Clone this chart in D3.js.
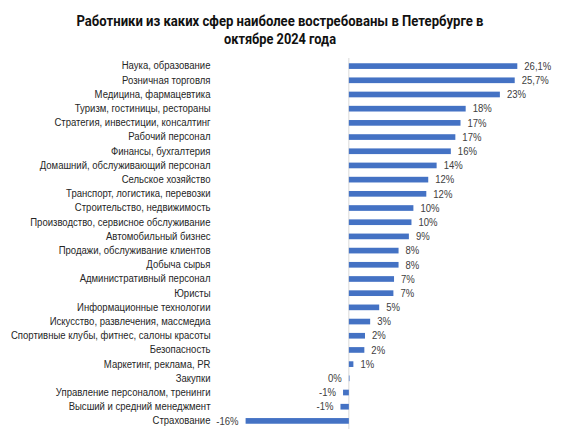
<!DOCTYPE html>
<html><head><meta charset="utf-8">
<script src="https://cdn.jsdelivr.net/npm/d3@7"></script>
<style>
body{margin:0;background:#fff;}
svg{display:block;}
</style></head>
<body><svg id="c" width="575" height="440"></svg>
<script>
const categories = [
  "Наука, образование","Розничная торговля","Медицина, фармацевтика","Туризм, гостиницы, рестораны",
  "Стратегия, инвестиции, консалтинг","Рабочий персонал","Финансы, бухгалтерия","Домашний, обслуживающий персонал",
  "Сельское хозяйство","Транспорт, логистика, перевозки","Строительство, недвижимость","Производство, сервисное обслуживание",
  "Автомобильный бизнес","Продажи, обслуживание клиентов","Добыча сырья","Административный персонал","Юристы",
  "Информационные технологии","Искусство, развлечения, массмедиа","Спортивные клубы, фитнес, салоны красоты",
  "Безопасность","Маркетинг, реклама, PR","Закупки","Управление персоналом, тренинги","Высший и средний менеджмент","Страхование"
];
const values = [26.1,25.7,23.4,18.1,17.3,16.5,15.8,13.6,12.3,12.0,10.0,9.7,9.3,7.7,7.7,7.0,6.9,4.7,3.3,2.5,2.4,0.7,0.1,-0.9,-1.3,-16.0];
const valueLabels = ["26,1%","25,7%","23%","18%","17%","17%","16%","14%","12%","12%","10%","10%","9%","8%","8%","7%","7%","5%","3%","2%","2%","1%","0%","-1%","-1%","-16%"];
const titleLines = ["Работники из каких сфер наиболее востребованы в Петербурге в","октябре 2024 года"];

const svg = d3.select("#c");
const x = d3.scaleLinear().domain([-16, 26.1]).range([245.6, 517.3]);
const y = d3.scaleBand().domain(categories).range([59, 428]).paddingInner(0.6).paddingOuter(0.3);
const FONT = "'Liberation Sans',Arial,sans-serif";
const FS = 10.6, SX = 0.9;

svg.selectAll("text.title").data(titleLines).join("text")
  .attr("class","title")
  .attr("x",280).attr("y",(d,i)=>26+i*17.5)
  .attr("text-anchor","middle")
  .attr("font-family","'Liberation Sans Narrow','Arial Narrow',Roboto,'Liberation Sans',sans-serif")
  .attr("font-weight","bold").attr("font-size",15.5).attr("fill","#111")
  .attr("textLength",(d,i)=>i===0?407:112).attr("lengthAdjust","spacingAndGlyphs")
  .text(d=>d);

// zero axis line
svg.append("line").attr("x1",x(0)).attr("x2",x(0)).attr("y1",58).attr("y2",429)
  .attr("stroke","#d9d9d9").attr("stroke-width",1);

svg.selectAll("rect.bar").data(values).join("rect")
  .attr("class","bar")
  .attr("x",d=>Math.min(x(0),x(d)))
  .attr("width",d=>Math.abs(x(d)-x(0)))
  .attr("y",(d,i)=>y(categories[i]))
  .attr("height",y.bandwidth())
  .attr("fill","#4472C4");

const yAxis = d3.axisLeft(y).tickSize(0).tickPadding(0);
const ag = svg.append("g").attr("transform","translate(210.5,0)").call(yAxis);
ag.select(".domain").remove();
ag.selectAll("text").attr("font-family",FONT).attr("font-size",FS).attr("fill","#262626")
  .attr("transform",`scale(${SX},1)`);

svg.selectAll("text.val").data(values).join("text")
  .attr("class","val")
  .attr("transform",(d,i)=>{
    const tx = d>=0.5? x(d)+7 : Math.min(x(d),x(0))-7;
    const ty = y(categories[i])+y.bandwidth()/2;
    return `translate(${tx},${ty}) scale(${SX},1)`;
  })
  .attr("dy","0.35em")
  .attr("text-anchor",d=>d>=0.5?"start":"end")
  .attr("font-family",FONT).attr("font-size",FS).attr("fill","#404040")
  .text((d,i)=>valueLabels[i]);
</script></body></html>
